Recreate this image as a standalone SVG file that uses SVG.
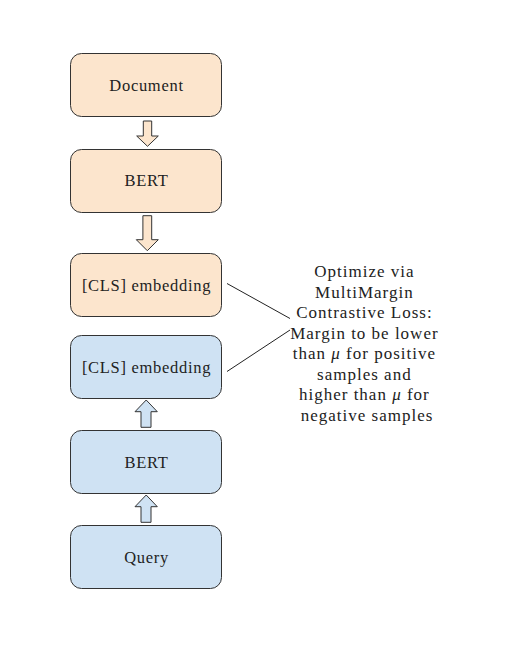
<svg xmlns="http://www.w3.org/2000/svg" width="518" height="647" viewBox="0 0 518 647">
<style>
.doc{fill:#fce5cd;stroke:#333;stroke-width:1}
.qry{fill:#cfe2f3;stroke:#333;stroke-width:1}
.lbl{font-family:"Liberation Serif","Times New Roman",serif;font-size:16.5px;letter-spacing:0.7px;fill:#222;text-anchor:middle}
.note{font-family:"Liberation Serif","Times New Roman",serif;font-size:17px;letter-spacing:1px;fill:#222;text-anchor:middle}
.conn{stroke:#222;stroke-width:1;fill:none}
</style>
<rect width="518" height="647" fill="#fff"/>
<g id="node-document"><rect class="doc" x="70.5" y="53.5" width="151" height="63" rx="11"/><text class="lbl" x="146.5" y="91">Document</text></g>
<g id="node-bert-doc"><rect class="doc" x="70.5" y="149.5" width="151" height="63" rx="11"/><text class="lbl" x="146.5" y="186">BERT</text></g>
<g id="node-cls-doc"><rect class="doc" x="70.5" y="253.5" width="151" height="63" rx="11"/><text class="lbl" x="146.5" y="291">[CLS] embedding</text></g>
<g id="node-cls-query"><rect class="qry" x="70.5" y="335.5" width="151" height="63" rx="11"/><text class="lbl" x="146.5" y="373">[CLS] embedding</text></g>
<g id="node-bert-query"><rect class="qry" x="70.5" y="430.5" width="151" height="63" rx="11"/><text class="lbl" x="146.5" y="468">BERT</text></g>
<g id="node-query"><rect class="qry" x="70.5" y="525.5" width="151" height="63" rx="11"/><text class="lbl" x="146.5" y="563">Query</text></g>
<g id="node-note"><text class="note">
<tspan x="367" y="277">Optimize via</tspan>
<tspan x="367" y="297.5">MultiMargin</tspan>
<tspan x="367" y="318">Contrastive Loss:</tspan>
<tspan x="367" y="338.5">Margin to be lower</tspan>
<tspan x="367" y="359">than <tspan font-style="italic">μ</tspan> for positive</tspan>
<tspan x="367" y="379.5">samples and</tspan>
<tspan x="367" y="400">higher than <tspan font-style="italic">μ</tspan> for</tspan>
<tspan x="367" y="420.5">negative samples</tspan>
</text></g>
<g id="connectors">
<path class="doc" d="M143.3 121 H151.7 V136 H158.3 L147.5 146.3 L136.7 136 H143.3 Z"/>
<path class="doc" d="M142.9 215.7 H151.7 V239.7 H158.3 L147.3 250.7 L136.3 239.7 H142.9 Z"/>
<path class="qry" d="M141 427.3 H151 V411.7 H157.3 L146.2 400 L135 411.7 H141 Z"/>
<path class="qry" d="M141 522.3 H151 V506.7 H157.3 L146.2 495 L135 506.7 H141 Z"/>
<line class="conn" x1="227" y1="283.5" x2="290" y2="318.5"/>
<line class="conn" x1="227" y1="371.5" x2="290" y2="330"/>
</g>
</svg>
